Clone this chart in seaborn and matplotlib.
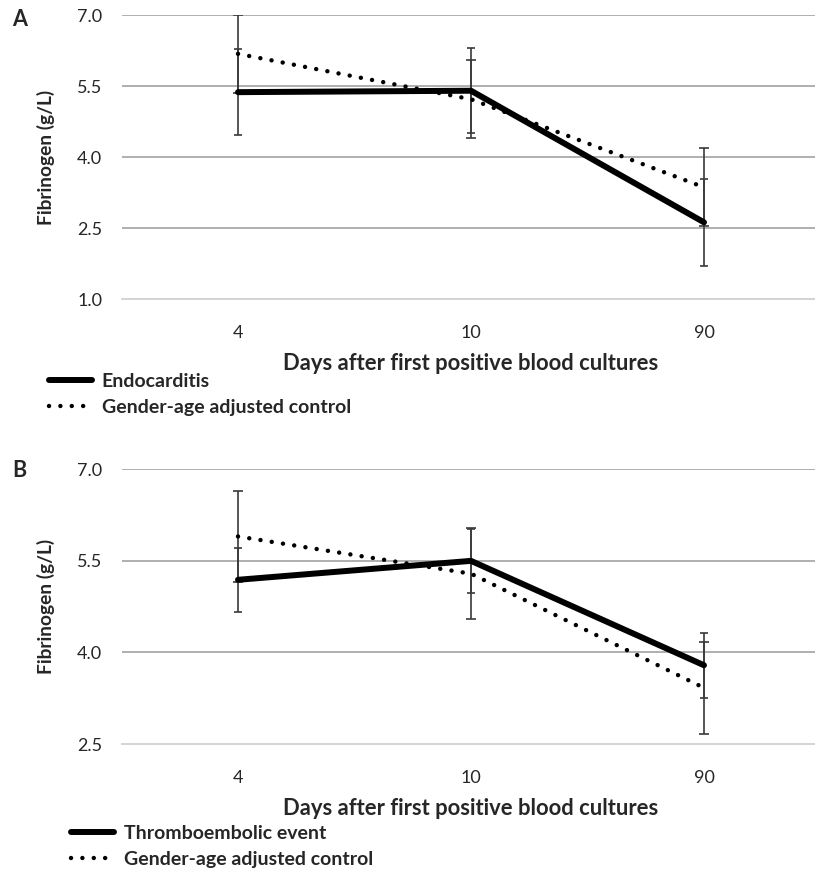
import numpy as np
import pandas as pd
import seaborn as sns
import matplotlib.pyplot as plt
from matplotlib.lines import Line2D

# values
days = ["4", "10", "90"]

endo_mean = [5.37, 5.40, 2.62]
endo_err = [0.91, 0.90, 0.92]
ctrl_a_mean = [6.18, 5.22, 3.36]
ctrl_a_err = [0.82, 0.82, 0.82]

thrombo_mean = [5.19, 5.50, 3.79]
thrombo_err = [0.52, 0.53, 0.53]
ctrl_b_mean = [5.90, 5.29, 3.42]
ctrl_b_err = [0.75, 0.75, 0.75]

sns.set_style("white")
plt.rcParams["font.family"] = ["Lato", "DejaVu Sans"]

W, H = 815, 872
fig = plt.figure(figsize=(W / 100, H / 100), dpi=100)


def px_axes(left, top, right, bottom):
    return fig.add_axes([left / W, 1 - bottom / H, (right - left) / W, (bottom - top) / H])


def draw_panel(ax, main_mean, main_err, ctrl_mean, ctrl_err, main_label, yticks):
    pos = np.arange(len(days))
    df = pd.DataFrame({"pos": np.concatenate([pos, pos]),
                       "value": main_mean + ctrl_mean,
                       "group": [main_label] * 3 + ["Gender-age adjusted control"] * 3})
    # error bars first (under lines)
    ax.errorbar(pos, ctrl_mean, yerr=ctrl_err, fmt="none", ecolor="#3a3a3a",
                elinewidth=1.2, capsize=3.5, capthick=1.2, zorder=2)
    ax.errorbar(pos, main_mean, yerr=main_err, fmt="none", ecolor="#3a3a3a",
                elinewidth=1.2, capsize=3.0, capthick=1.2, zorder=2)
    sns.lineplot(data=df[df.group == main_label], x="pos", y="value", color="black",
                 linewidth=4.3, ax=ax, legend=False, zorder=3)
    sns.lineplot(data=df[df.group != main_label], x="pos", y="value", color="black",
                 linewidth=3.2, ax=ax, legend=False, zorder=3)
    l1, l2 = ax.get_lines()[-2:]
    l1.set_solid_capstyle("round")
    l2.set_linestyle((0, (0.01, 2.55)))
    l2.set_dash_capstyle("round")

    ax.set_xlim(-0.5, 2.5)
    ax.set_ylim(yticks[0], yticks[-1])
    ax.set_yticks(yticks)
    ax.set_yticklabels([f"{t:.1f}" for t in yticks])
    ax.set_xticks(pos)
    ax.set_xticklabels(days)
    ax.set_xticks([-0.5, 0.5, 1.5], minor=True)
    ax.tick_params(axis="x", which="major", length=0, pad=19, labelsize=13)
    ax.tick_params(axis="x", which="minor", length=5, width=1, color="#d0d0d0", direction="out")
    ax.tick_params(axis="y", length=0, pad=14, labelsize=13)
    for t in yticks[1:]:
        ax.axhline(t, color="#9a9a9a", linewidth=1.1, zorder=1)
    for s in ["top", "right", "left"]:
        ax.spines[s].set_visible(False)
    ax.spines["bottom"].set_color("#d0d0d0")
    ax.spines["bottom"].set_linewidth(1.3)
    ax.set_xlabel("Days after first positive blood cultures", fontsize=15.8,
                  fontweight="bold", labelpad=8)
    ax.set_ylabel("Fibrinogen (g/L)", fontsize=13.8, fontweight="bold", labelpad=16)


def draw_legend(ax, main_label, x, y):
    handles = [Line2D([], [], color="black", linewidth=4.3),
               Line2D([], [], color="black", linewidth=3.2, linestyle=(0, (0.01, 2.55)),
                      dash_capstyle="round")]
    leg = ax.legend(handles, [main_label, "Gender-age adjusted control"],
                    loc="upper left", bbox_to_anchor=(x / W, 1 - y / H),
                    bbox_transform=fig.transFigure, frameon=False,
                    prop={"weight": "bold", "size": 14}, handlelength=2.2,
                    handletextpad=0.5, labelspacing=0.45, borderaxespad=0, borderpad=0)
    return leg


ax_a = px_axes(121.5, 15, 820.5, 299)
draw_panel(ax_a, endo_mean, endo_err, ctrl_a_mean, ctrl_a_err, "Endocarditis",
           [1.0, 2.5, 4.0, 5.5, 7.0])
draw_legend(ax_a, "Endocarditis", 49, 373)
fig.text(12 / W, 1 - 20 / H, "A", fontsize=15.5, fontweight="bold", va="center")

ax_b = px_axes(121.5, 469.3, 820.5, 744)
draw_panel(ax_b, thrombo_mean, thrombo_err, ctrl_b_mean, ctrl_b_err, "Thromboembolic event",
           [2.5, 4.0, 5.5, 7.0])
draw_legend(ax_b, "Thromboembolic event", 71, 825)
fig.text(12 / W, 1 - 470 / H, "B", fontsize=15.5, fontweight="bold", va="center")

fig.savefig("out.png", dpi=100)
